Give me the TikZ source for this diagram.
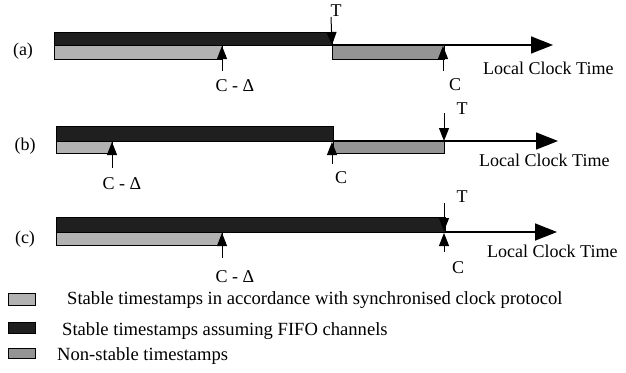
\documentclass[tikz,border=0pt]{standalone}
\usepackage{fontspec}
\setmainfont{Liberation Serif}
\usetikzlibrary{arrows.meta}

\begin{document}
\begin{tikzpicture}[x=1pt, y=-1pt, font=\fontsize{18}{21}\selectfont,
    every node/.style={inner sep=1pt},
    fifo/.style={draw, fill=black!88},
    sync/.style={draw, fill=black!30},
    nonstable/.style={draw, fill=black!42},
    keytext/.style={anchor=base west, inner sep=0pt, font=\fontsize{18.6}{22}\selectfont},
    timeline/.style={line width=1.6pt, -{Triangle[length=22pt, width=17pt]}},
    pointer/.style={line width=1pt, -{Triangle[length=13pt, width=10pt]}}]
  \useasboundingbox (0,0) rectangle (626,372);

  % (a)
  \node (rowa) at (23,51) {(a)};
  \draw[fifo] (54,32) rectangle (332,45);
  \draw[sync] (54,45) rectangle (222,59);
  \draw[nonstable] (332,45) rectangle (444,59);
  \coordinate (a0) at (332,45);
  \coordinate (a1) at (553,45);
  \draw[timeline] (a0) -- (a1);
  \node[anchor=west] (clocka) at (482,68) {Local Clock Time};
  \node (ta) at (336,11) {T};
  \coordinate (tafrom) at (331,17);
  \draw[pointer] (tafrom) -- (a0);
  \node (ca) at (455,85) {C};
  \coordinate (cafrom) at (443,71);
  \coordinate (cato) at (443,46);
  \draw[pointer] (cafrom) -- (cato);
  \node (da) at (235,86) {C - Δ};
  \coordinate (dafrom) at (222,71);
  \coordinate (dato) at (222,46);
  \draw[pointer] (dafrom) -- (dato);

  % (b)
  \node (rowb) at (25,146) {(b)};
  \draw[fifo] (56,126) rectangle (333,141);
  \draw[sync] (56,141) rectangle (112,153);
  \draw[nonstable] (333,141) rectangle (444,153);
  \coordinate (b0) at (333,141);
  \coordinate (b1) at (558,141);
  \draw[timeline] (b0) -- (b1);
  \node[anchor=west] (clockb) at (478,160) {Local Clock Time};
  \node (tb) at (462,109) {T};
  \coordinate (tbfrom) at (444,113);
  \coordinate (tbto) at (444,141);
  \draw[pointer] (tbfrom) -- (tbto);
  \node (cb) at (341,178) {C};
  \coordinate (cbfrom) at (332,164);
  \coordinate (cbto) at (332,142);
  \draw[pointer] (cbfrom) -- (cbto);
  \node (db) at (122,184) {C - Δ};
  \coordinate (dbfrom) at (112,168);
  \coordinate (dbto) at (112,142);
  \draw[pointer] (dbfrom) -- (dbto);

  % (c)
  \node (rowc) at (25,239) {(c)};
  \draw[fifo] (56,217) rectangle (445,232);
  \draw[sync] (56,232) rectangle (222,245);
  \coordinate (c0) at (445,232);
  \coordinate (c1) at (557,232);
  \draw[timeline] (c0) -- (c1);
  \node[anchor=west] (clockc) at (486,251) {Local Clock Time};
  \node (tc) at (462,197) {T};
  \coordinate (tcfrom) at (444,203);
  \coordinate (tcto) at (444,231);
  \draw[pointer] (tcfrom) -- (tcto);
  \node (cc) at (458,268) {C};
  \coordinate (ccfrom) at (444,252);
  \coordinate (ccto) at (444,233);
  \draw[pointer] (ccfrom) -- (ccto);
  \node (dc) at (235,277) {C - Δ};
  \coordinate (dcfrom) at (222,258);
  \coordinate (dcto) at (222,233);
  \draw[pointer] (dcfrom) -- (dcto);

  % legend
  \draw[sync] (8,293) rectangle (35,305);
  \node[keytext] (keysync) at (67,304) {Stable timestamps in accordance with synchronised clock protocol};
  \draw[fifo] (8,322) rectangle (35,333);
  \node[keytext] (keyfifo) at (62,335) {Stable timestamps assuming FIFO channels};
  \draw[nonstable] (8,348) rectangle (35,358);
  \node[keytext] (keynon) at (57,360) {Non-stable timestamps};
\end{tikzpicture}
\end{document}
